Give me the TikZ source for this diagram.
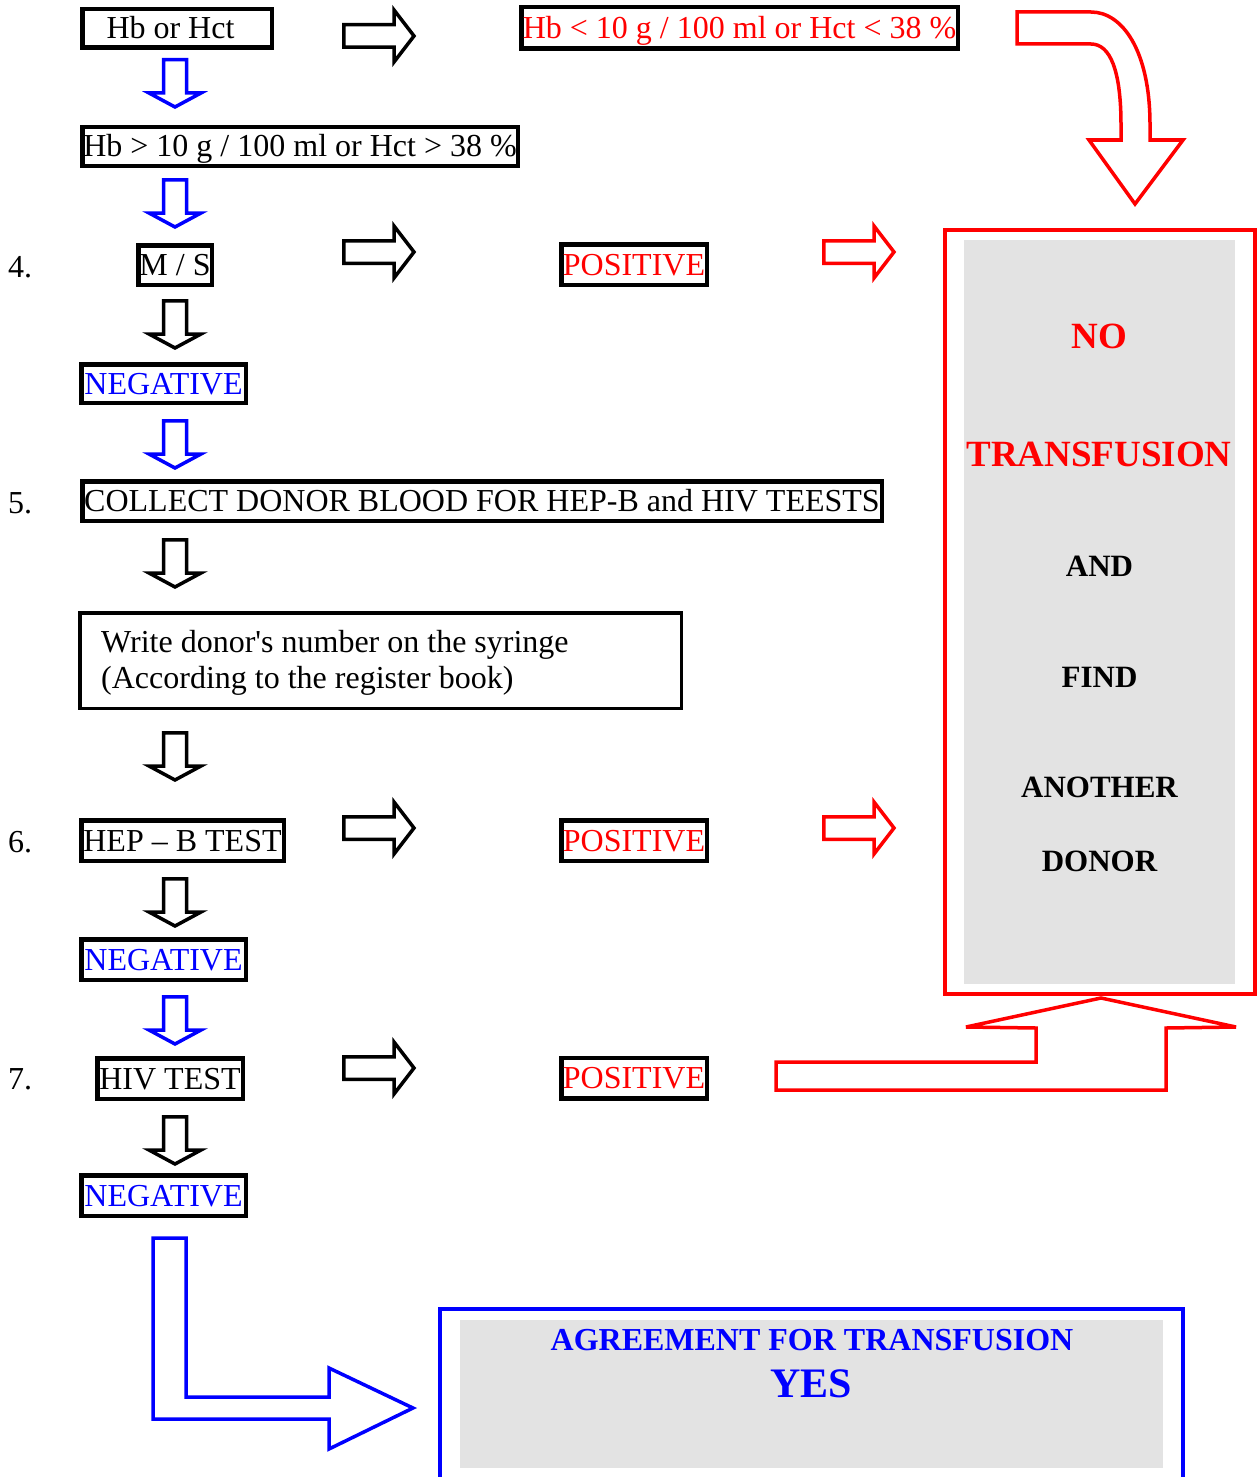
\documentclass[tikz,border=0pt]{standalone}
\usepackage{fontspec}
\setmainfont{Liberation Serif}[Ligatures=TeXOff]
\definecolor{panelgray}{HTML}{E3E3E3}
\begin{document}
\begin{tikzpicture}[x=1pt,y=-1pt,
  box/.style={draw=black, line width=4.5pt, inner sep=0pt, fill=white,
    font=\fontsize{32}{38}\selectfont, text height=25pt, text depth=4pt},
  num/.style={anchor=base west, inner sep=0pt, font=\fontsize{32}{38}\selectfont},
  plain/.style={anchor=base west, inner sep=0pt, font=\fontsize{32}{38}\selectfont},
  bigtxt/.style={anchor=base, inner sep=0pt, font=\bfseries\fontsize{31}{36}\selectfont},
  panel/.style={fill=panelgray, draw=none, inner sep=0pt},
  pics/dnarr/.style={code={\draw[#1, line width=3.5pt, line join=miter]
     (-11.5,1.75) -- (11.5,1.75) -- (11.5,35) -- (26,35) -- (0,49) -- (-26,35) -- (-11.5,35) -- cycle;}},
  pics/rtarr/.style={code={\draw[#1, line width=3.5pt, line join=miter]
     (1.75,-11.25) -- (52,-11.25) -- (52,-26) -- (72,0) -- (52,26) -- (52,11.25) -- (1.75,11.25) -- cycle;}},
]
\useasboundingbox (0,0) rectangle (1259,1477);

% ---------- left column boxes ----------
\node[box, minimum width=189.5pt, minimum height=38.5pt] (hbhct) at (177,28.5) {\kern-13pt Hb or Hct};
\node[box, minimum width=435.5pt, minimum height=38.5pt] (hbok) at (300,146.5) {Hb > 10 g / 100 ml or Hct > 38 \%};
\node[box, minimum width=73.5pt, minimum height=39.5pt] (ms) at (175,265) {M / S};
\node[box, minimum width=164.5pt, minimum height=38.5pt, text=blue] (neg1) at (163.5,383.5) {NEGATIVE};
\node[box, minimum width=799.5pt, minimum height=39.5pt] (collect) at (482,501) {COLLECT DONOR BLOOD FOR HEP-B and HIV TEESTS};
\node[box, line width=3.5pt, minimum width=601.5pt, minimum height=95.5pt] (write) at (380.5,660.5) {};
\node[plain] (writeA) at (101,652) {Write donor's number on the syringe};
\node[plain] (writeB) at (101,688) {(According to the register book)};
\node[box, minimum width=202.5pt, minimum height=40.5pt] (hepb) at (182.5,840.5) {HEP – B TEST};
\node[box, minimum width=164.5pt, minimum height=40.5pt, text=blue] (neg2) at (163.5,959.5) {NEGATIVE};
\node[box, minimum width=145.5pt, minimum height=40.5pt] (hiv) at (170,1078.5) {HIV TEST};
\node[box, minimum width=164.5pt, minimum height=40.5pt, text=blue] (neg3) at (163.5,1195.5) {NEGATIVE};

% ---------- step numbers ----------
\node[num] (n4) at (8,277) {4.};
\node[num] (n5) at (8,513) {5.};
\node[num] (n6) at (8,852) {6.};
\node[num] (n7) at (8,1089) {7.};

% ---------- middle column ----------
\node[box, minimum width=436.5pt, minimum height=41.5pt, text=red] (hbbad) at (739.5,28) {Hb < 10 g / 100 ml or Hct < 38 \%};
\node[box, minimum width=145.5pt, minimum height=40.5pt, text=red] (pos1) at (634,264.5) {POSITIVE};
\node[box, minimum width=145.5pt, minimum height=40.5pt, text=red] (pos2) at (634,840.5) {POSITIVE};
\node[box, minimum width=145.5pt, minimum height=40.5pt, text=red] (pos3) at (634,1078) {POSITIVE};

% ---------- down block arrows ----------
\pic at (175,58) {dnarr=blue};
\pic at (175,178) {dnarr=blue};
\pic at (175,299) {dnarr=black};
\pic at (175,419) {dnarr=blue};
\pic at (175,538) {dnarr=black};
\pic at (175,731) {dnarr=black};
\pic at (175,877) {dnarr=black};
\pic at (175,995) {dnarr=blue};
\pic at (175,1115) {dnarr=black};

% ---------- right block arrows ----------
\pic at (342,36) {rtarr=black};
\pic at (342,252) {rtarr=black};
\pic at (342,828) {rtarr=black};
\pic at (342,1068) {rtarr=black};
\pic at (822,252) {rtarr=red};
\pic at (822,828) {rtarr=red};

% ---------- no transfusion panel ----------
\node[panel, minimum width=271pt, minimum height=744pt] (nogray) at (1099.5,612) {};
\node[draw=red, line width=4pt, inner sep=0pt, minimum width=310pt, minimum height=764pt] (nobox) at (1100,612) {};
\node[bigtxt, text=red, font=\bfseries\fontsize{37}{40}\selectfont] (tno) at (1099.5,348) {NO};
\node[bigtxt, text=red, font=\bfseries\fontsize{37}{40}\selectfont] (ttrans) at (1099,466) {TRANSFUSION};
\node[bigtxt] (tand) at (1099.5,576) {AND};
\node[bigtxt] (tfind) at (1099.5,687) {FIND};
\node[bigtxt] (tanother) at (1099.5,797) {ANOTHER};
\node[bigtxt] (tdonor) at (1099.5,871) {DONOR};

% curved red arrow from top
\draw[red, line width=3.5pt, line join=miter]
  (1017,12) -- (1091,12) .. controls (1122,12) and (1150,50) .. (1150,125) -- (1150,140)
  -- (1183,140) -- (1135,204) -- (1089,140) -- (1121,140) -- (1121,125)
  .. controls (1121,70) and (1110,44) .. (1091,44) -- (1017,44) -- cycle;

% red L arrow from bottom
\draw[red, line width=3.5pt, line join=miter, miter limit=6]
  (776,1062) -- (1036,1062) -- (1036,1028) -- (966,1027) -- (1101,998) -- (1236,1027)
  -- (1166,1028) -- (1166,1090) -- (776,1090) -- cycle;

% ---------- agreement panel ----------
\node[panel, minimum width=703pt, minimum height=148pt] (agreebg) at (811.5,1394) {};
\draw[blue, line width=4pt] (440,1485) -- (440,1309) -- (1183,1309) -- (1183,1485);
\node[bigtxt, text=blue, font=\bfseries\fontsize{32}{36}\selectfont] (tagree) at (812,1350) {AGREEMENT FOR TRANSFUSION};
\node[bigtxt, text=blue, font=\bfseries\fontsize{42}{46}\selectfont] (tyes) at (811,1397) {YES};

% blue L arrow
\draw[blue, line width=3.5pt, line join=miter]
  (153,1238) -- (186,1238) -- (186,1397) -- (329,1397) -- (329,1368) -- (413,1408)
  -- (329,1449) -- (329,1419) -- (153,1419) -- cycle;

\end{tikzpicture}
\end{document}
